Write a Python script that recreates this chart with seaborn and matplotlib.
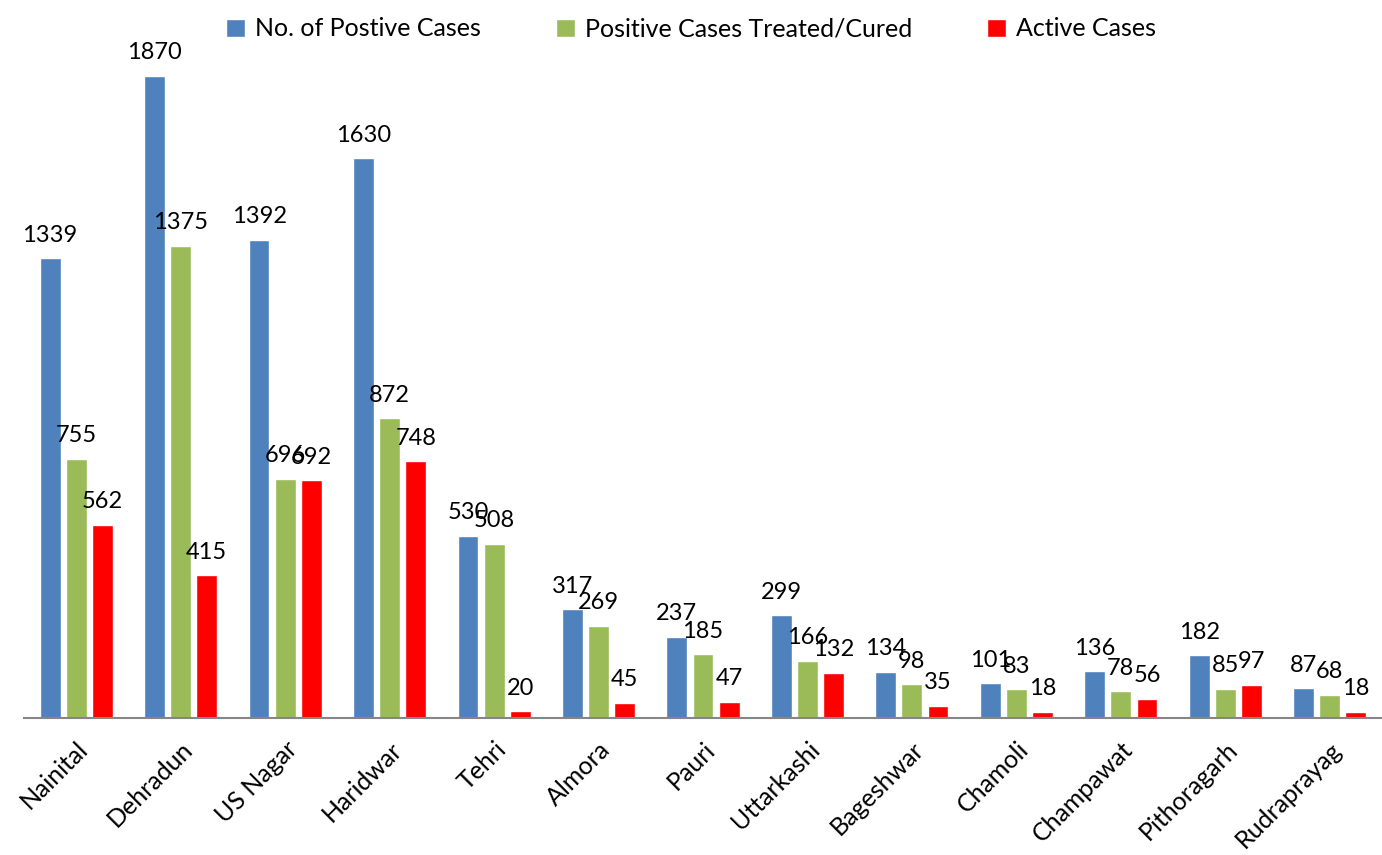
import pandas as pd
import seaborn as sns
import matplotlib.pyplot as plt

# district-wise data
districts = ['Nainital', 'Dehradun', 'US Nagar', 'Haridwar', 'Tehri', 'Almora', 'Pauri',
             'Uttarkashi', 'Bageshwar', 'Chamoli', 'Champawat', 'Pithoragarh', 'Rudraprayag']
positive = [1339, 1870, 1392, 1630, 530, 317, 237, 299, 134, 101, 136, 182, 87]
cured = [755, 1375, 696, 872, 508, 269, 185, 166, 98, 83, 78, 85, 68]
active = [562, 415, 692, 748, 20, 45, 47, 132, 35, 18, 56, 97, 18]

series = ['No. of Postive Cases', 'Positive Cases Treated/Cured', 'Active Cases']
colors = ['#4F81BD', '#9BBB59', '#FF0000']

df = pd.DataFrame({'district': districts, series[0]: positive, series[1]: cured, series[2]: active})
df_long = df.melt(id_vars='district', var_name='series', value_name='cases')

sns.set_style('white')
plt.rcParams['font.family'] = ['Lato', 'DejaVu Sans']
plt.rcParams['text.color'] = 'black'
plt.rcParams['xtick.color'] = 'black'

fig = plt.figure(figsize=(13.82, 8.55), dpi=100)
ax = fig.add_axes([24 / 1382, 1 - 718 / 855, 1358 / 1382, 687 / 855])

sns.barplot(data=df_long, x='district', y='cases', hue='series', hue_order=series,
            palette=colors, width=0.75, gap=0.2, saturation=1, ax=ax)

# data labels above each bar
for cont in ax.containers:
    ax.bar_label(cont, padding=9, fontsize=17)

ax.set_xlim(-0.5, len(districts) - 0.5)
ax.set_ylim(0, 2000)
ax.set_xlabel('')
ax.set_ylabel('')
ax.set_yticks([])
for s in ['top', 'right', 'left']:
    ax.spines[s].set_visible(False)
ax.spines['bottom'].set_color('#868686')
ax.spines['bottom'].set_linewidth(1.5)
ax.tick_params(axis='x', length=0, pad=14)
plt.setp(ax.get_xticklabels(), rotation=45, ha='right', rotation_mode='anchor', fontsize=18)

ax.legend(loc='upper center', bbox_to_anchor=(0.5, 1.0), bbox_transform=fig.transFigure,
          ncol=3, frameon=False, handlelength=0.75, handleheight=0.75,
          columnspacing=3.0, handletextpad=0.4, borderaxespad=0.3,
          prop={'family': 'Lato', 'size': 18})

fig.savefig('out.png', dpi=100)
